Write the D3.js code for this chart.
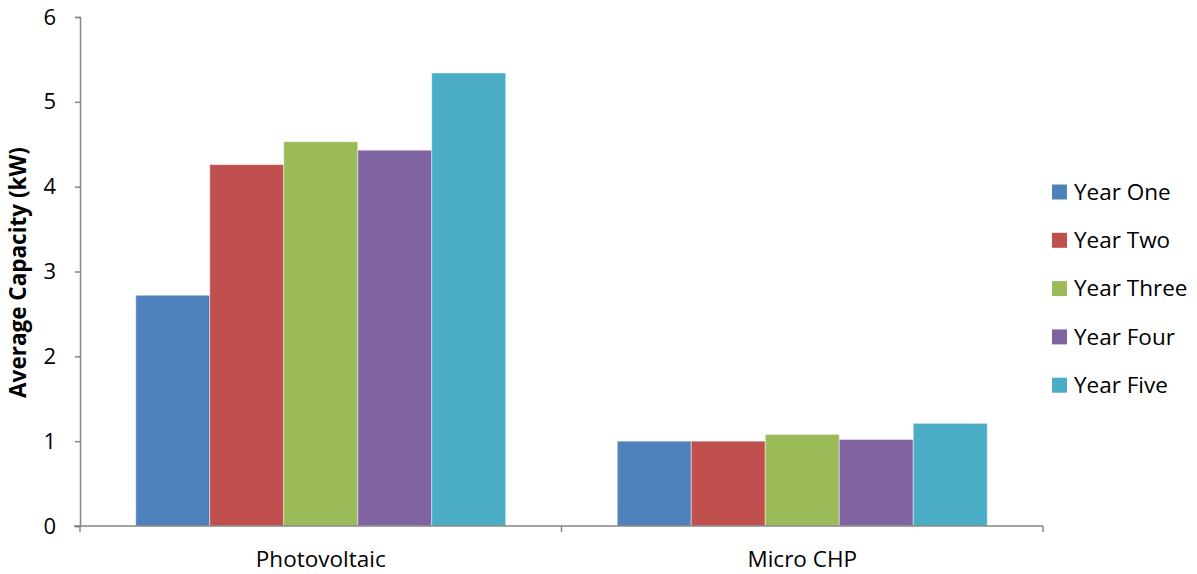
<!DOCTYPE html>
<html>
<head>
<meta charset="utf-8">
<script src="https://cdn.jsdelivr.net/npm/d3@7"></script>
<style>
  html, body { margin: 0; padding: 0; background: #fff; }
  svg { display: block; font-family: "Open Sans", "Liberation Sans", sans-serif; }
</style>
</head>
<body>
<svg id="chart" width="1197" height="574"></svg>
<script>
// Average installed capacity by technology and programme year
const categories = ["Photovoltaic", "Micro CHP"];
const seriesNames = ["Year One", "Year Two", "Year Three", "Year Four", "Year Five"];
const yearOne = [2.72, 1.00];
const yearTwo = [4.26, 1.00];
const yearThree = [4.53, 1.08];
const yearFour = [4.43, 1.02];
const yearFive = [5.34, 1.21];
const seriesColors = ["#4f81bd", "#c0504d", "#9bbb59", "#8064a2", "#4bacc6"];
const yTicks = [0, 1, 2, 3, 4, 5, 6];

const seriesValues = [yearOne, yearTwo, yearThree, yearFour, yearFive];

const svg = d3.select("#chart");
const margin = { left: 80, right: 154, top: 17, bottom: 48 };
const W = 1197, H = 574;

const x0 = d3.scaleBand().domain(categories).range([margin.left, W - margin.right]).paddingInner(0.2316).paddingOuter(0.1158);
const x1 = d3.scaleBand().domain(seriesNames).range([0, x0.bandwidth()]).padding(0);
const y = d3.scaleLinear().domain([0, 6]).range([H - margin.bottom, margin.top]);

// bars
const groups = svg.append("g").selectAll("g").data(categories).join("g")
  .attr("transform", d => `translate(${x0(d)},0)`);
groups.selectAll("rect")
  .data((c, ci) => seriesNames.map((s, si) => ({ s, si, v: seriesValues[si][ci] })))
  .join("rect")
  .attr("x", d => x1(d.s))
  .attr("width", x1.bandwidth())
  .attr("y", d => y(d.v))
  .attr("height", d => y(0) - y(d.v))
  .attr("fill", d => seriesColors[d.si])
  .attr("stroke", "#ffffff")
  .attr("stroke-opacity", 0.45)
  .attr("stroke-width", 1);

// y axis
const yAxis = svg.append("g")
  .attr("transform", `translate(${margin.left},0)`)
  .call(d3.axisLeft(y).tickValues(yTicks).tickSize(5).tickPadding(19).tickFormat(d3.format("d")));
yAxis.select(".domain").attr("stroke", "#868686").attr("stroke-width", 1.5);
yAxis.selectAll(".tick line").attr("stroke", "#868686").attr("stroke-width", 1.5);
yAxis.selectAll(".tick text").attr("font-size", 22).attr("fill", "#000")
  .attr("font-family", "'Open Sans', sans-serif");

// x axis: baseline with ticks at category boundaries
const xAxisG = svg.append("g");
const xLeft = margin.left, xRight = W - margin.right;
xAxisG.append("line")
  .attr("x1", xLeft - 6).attr("x2", xRight)
  .attr("y1", y(0)).attr("y2", y(0))
  .attr("stroke", "#868686").attr("stroke-width", 1.5);
const boundaries = [xLeft, (xLeft + xRight) / 2, xRight];
xAxisG.selectAll("line.tk").data(boundaries).join("line")
  .attr("class", "tk")
  .attr("x1", d => d).attr("x2", d => d)
  .attr("y1", y(0)).attr("y2", y(0) + 6)
  .attr("stroke", "#868686").attr("stroke-width", 1.5);
xAxisG.selectAll("text").data(categories).join("text")
  .attr("x", d => x0(d) + x0.bandwidth() / 2)
  .attr("y", H - 7)
  .attr("text-anchor", "middle")
  .attr("font-size", 22.5)
  .attr("fill", "#000")
  .text(d => d);

// y axis title
svg.append("text")
  .attr("transform", `translate(26,${(y(0) + y(6)) / 2 + 1}) rotate(-90)`)
  .attr("text-anchor", "middle")
  .attr("font-size", 22.5)
  .attr("font-weight", "bold")
  .attr("fill", "#000")
  .text("Average Capacity (kW)");

// legend
const legend = svg.append("g").attr("transform", "translate(1052,192)");
const rows = legend.selectAll("g").data(seriesNames).join("g")
  .attr("transform", (d, i) => `translate(0,${i * 48.3})`);
rows.append("rect")
  .attr("x", 0).attr("y", -7.5).attr("width", 15).attr("height", 15)
  .attr("fill", (d, i) => seriesColors[i]);
rows.append("text")
  .attr("x", 22).attr("y", 0).attr("dy", "0.35em")
  .attr("font-size", 22.5)
  .attr("fill", "#000")
  .text(d => d);
</script>
</body>
</html>
